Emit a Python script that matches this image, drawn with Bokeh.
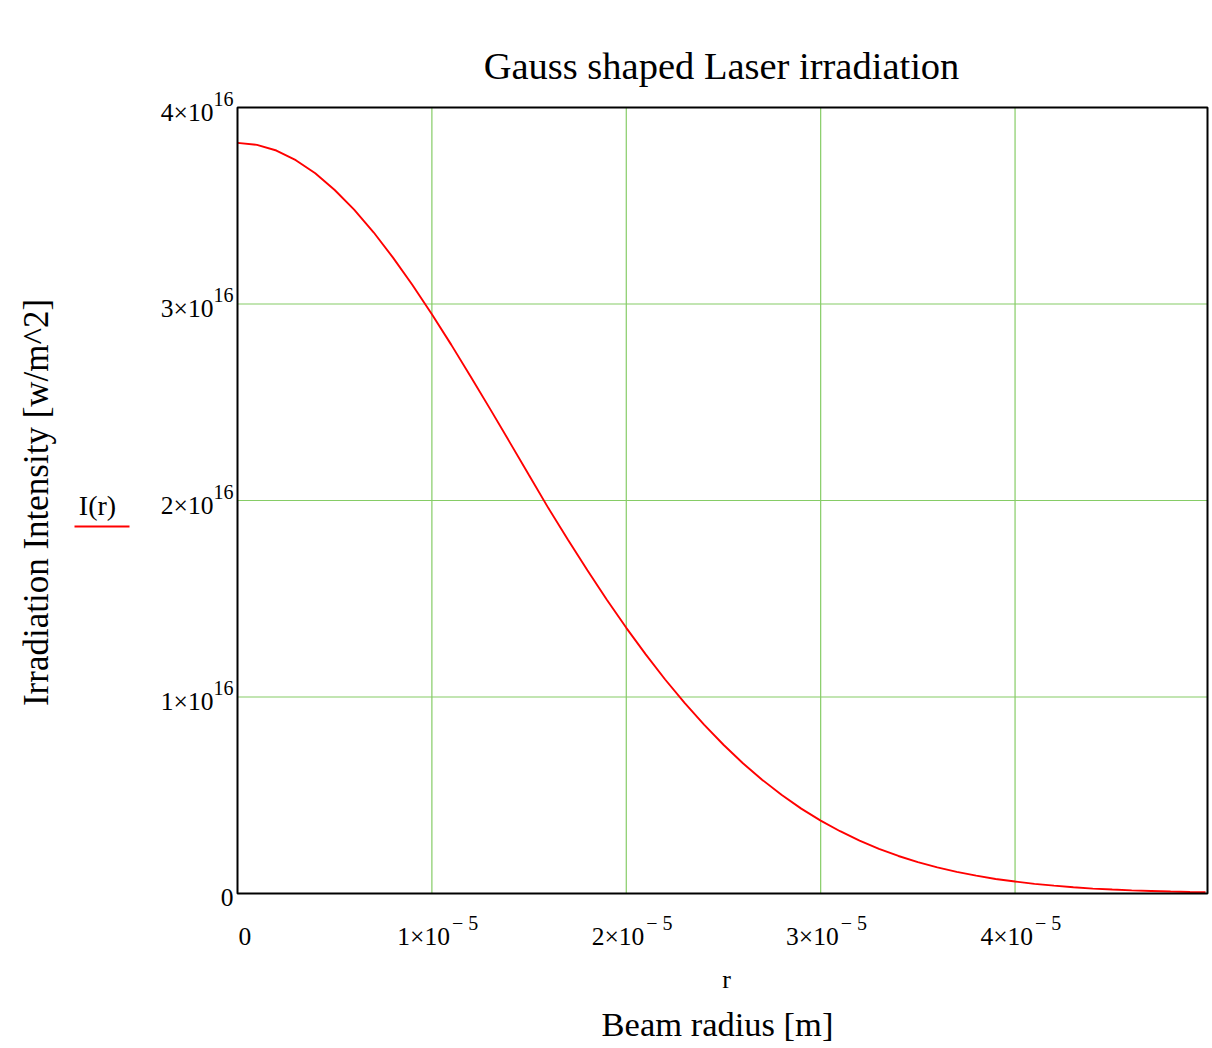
import math
from bokeh.plotting import figure
from bokeh.models import ColumnDataSource, LabelSet
from bokeh.embed import file_html
from bokeh.resources import INLINE

# ---------------- data ----------------
r_um = [0, 1, 2, 3, 4, 5, 6, 7, 8, 9,
        10, 11, 12, 13, 14, 15, 16, 17, 18, 19,
        20, 21, 22, 23, 24, 25, 26, 27, 28, 29,
        30, 31, 32, 33, 34, 35, 36, 37, 38, 39,
        40, 41, 42, 43, 44, 45, 46, 47, 48, 49, 49.8]
intensity_e16 = [3.820, 3.810, 3.781, 3.732, 3.665, 3.580, 3.480, 3.365, 3.236, 3.097,
                 2.948, 2.792, 2.630, 2.465, 2.297, 2.128, 1.960, 1.800, 1.645, 1.495,
                 1.352, 1.217, 1.089, 0.970, 0.859, 0.757, 0.663, 0.578, 0.501, 0.432,
                 0.371, 0.317, 0.269, 0.227, 0.191, 0.160, 0.133, 0.110, 0.091, 0.074,
                 0.061, 0.049, 0.040, 0.032, 0.025, 0.020, 0.016, 0.013, 0.010, 0.008, 0.007]

x_ticks = [0.0, 1e-5, 2e-5, 3e-5, 4e-5]
x_tick_main = ["0", "1×10", "2×10", "3×10", "4×10"]
x_tick_sup = ["", "− 5", "− 5", "− 5", "− 5"]
y_ticks = [0.0, 1e16, 2e16, 3e16, 4e16]
y_tick_main = ["0", "1×10", "2×10", "3×10", "4×10"]
y_tick_sup = ["", "16", "16", "16", "16"]

title_text = "Gauss shaped Laser irradiation"
x_label_text = "Beam radius [m]"
x_var_text = "r"
y_label_text = "Irradiation Intensity [w/m^2]"
legend_text = "I(r)"

X_MAX = 4.99e-5
Y_MAX = 4e16

FONT = "Liberation Serif"
RED = "#FF0000"
GRID = "#86CC66"
TICK_SIZE = "25.5px"
SUP_SIZE = "20px"

r = [v * 1e-6 for v in r_um]
I = [v * 1e16 for v in intensity_e16]

# ---------------- layout: plotting box inside a full-canvas frame ----------------
W, H = 1212, 1048
L, R, T, B = 237, 5, 107, 155
fw = W - L - R
fh = H - T - B
dx = X_MAX / fw
dy = Y_MAX / fh

p = figure(width=W, height=H,
           x_range=(-L * dx, X_MAX + R * dx), y_range=(-B * dy, Y_MAX + T * dy),
           x_axis_type=None, y_axis_type=None,
           output_backend="svg", toolbar_location=None, min_border=0)
p.outline_line_color = None
p.background_fill_color = "white"
p.border_fill_color = "white"


def text_set(xv, yv, texts, size, align="center", xo=0, yo=0, angle=0.0):
    src = ColumnDataSource(dict(x=list(xv), y=list(yv), t=list(texts)))
    p.add_layout(LabelSet(x="x", y="y", text="t", source=src, x_offset=xo, y_offset=yo,
                          angle=angle, text_align=align, text_baseline="alphabetic",
                          text_font=FONT, text_font_size=size, text_color="black"))


# grid lines
p.segment(x0=x_ticks[1:], y0=[0.0] * 4, x1=x_ticks[1:], y1=[Y_MAX] * 4,
          line_color=GRID, line_width=1.2)
p.segment(x0=[0.0] * 3, y0=y_ticks[1:-1], x1=[X_MAX] * 3, y1=y_ticks[1:-1],
          line_color=GRID, line_width=1.2)

# curve
p.line(r, I, line_color=RED, line_width=1.9)

# plot box
p.quad(left=[0.0], right=[X_MAX], bottom=[0.0], top=[Y_MAX],
       fill_color=None, line_color="black", line_width=2)

# x tick labels
text_set(x_ticks[1:], [0.0] * 4, x_tick_main[1:], TICK_SIZE, "right", 18, -51)
text_set(x_ticks[1:], [0.0] * 4, x_tick_sup[1:], SUP_SIZE, "left", 20, -36)
text_set(x_ticks[:1], [0.0], x_tick_main[:1], TICK_SIZE, "left", 1, -51)

# y tick labels
text_set([0.0] * 4, y_ticks[1:], y_tick_main[1:], TICK_SIZE, "right", -24, -13)
text_set([0.0] * 4, y_ticks[1:], y_tick_sup[1:], SUP_SIZE, "left", -24, 2)
text_set([0.0], y_ticks[:1], y_tick_main[:1], TICK_SIZE, "right", -4, -12)

# title
text_set([X_MAX / 2], [Y_MAX], [title_text], "38.5px", "center", -1, 29)
# x variable and axis label
text_set([X_MAX / 2], [0.0], [x_var_text], "26px", "center", 4, -94)
text_set([X_MAX / 2], [0.0], [x_label_text], "34.5px", "center", -5, -142)
# y axis label
text_set([0.0], [Y_MAX / 2], [y_label_text], "35px", "center", -190, -2, math.pi / 2)
# legend
text_set([0.0], [Y_MAX / 2], [legend_text], "28px", "center", -140, -14)
p.segment(x0=[-163 * dx], y0=[Y_MAX / 2 - 26 * dy], x1=[-108 * dx], y1=[Y_MAX / 2 - 26 * dy],
          line_color=RED, line_width=2)

open("out.html", "w").write(file_html(p, INLINE))
